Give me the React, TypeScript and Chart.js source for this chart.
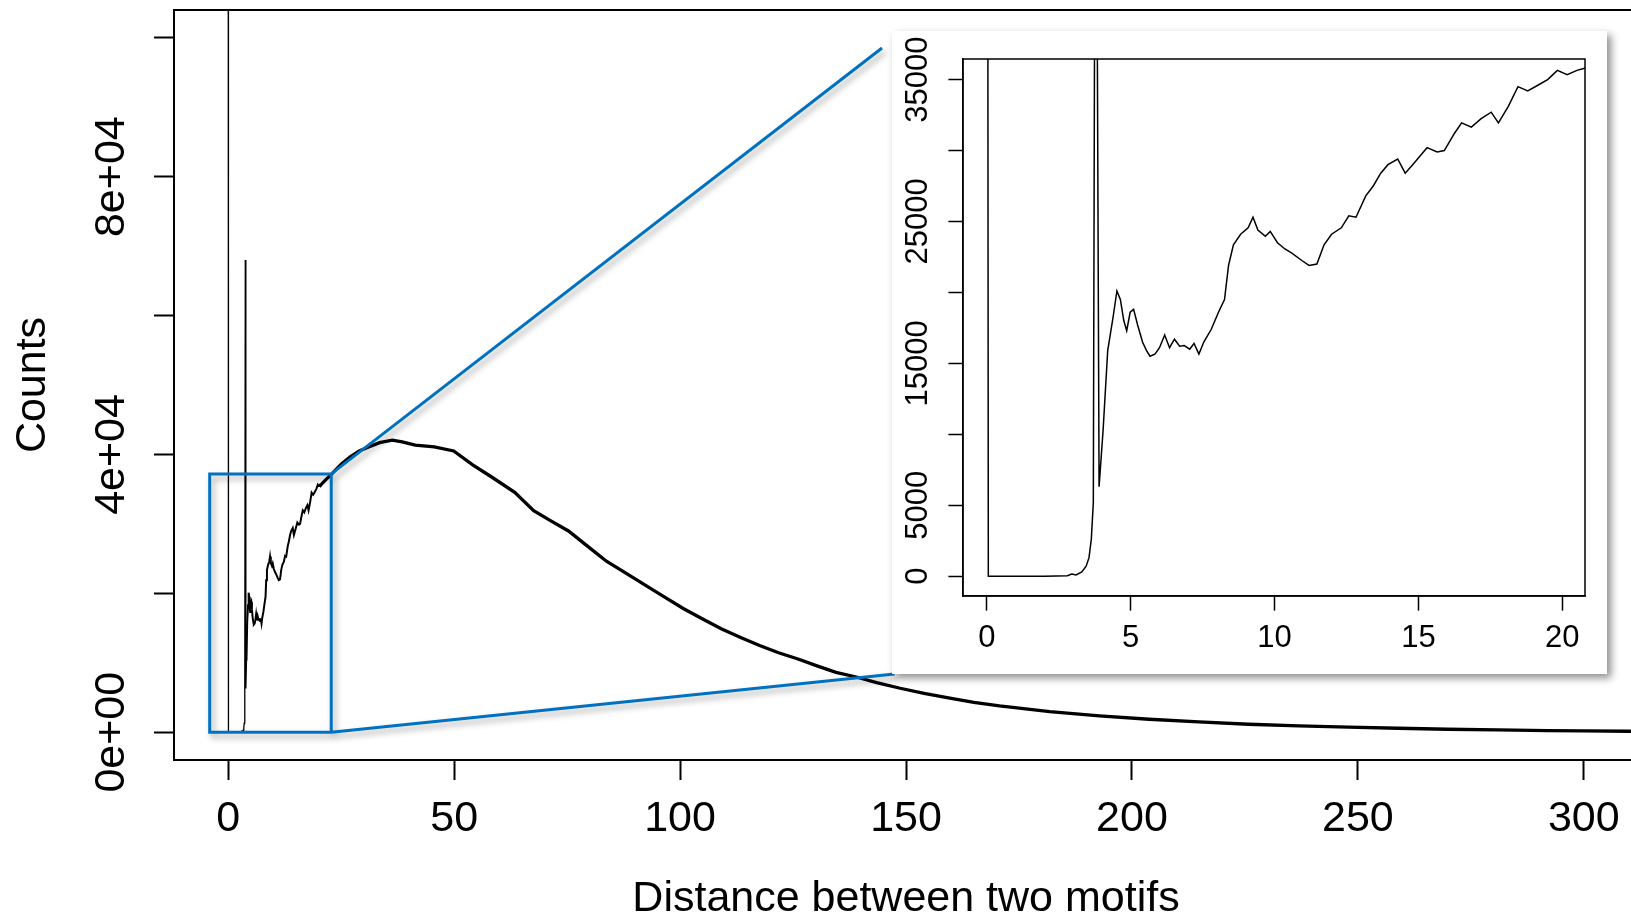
import React, { useEffect, useRef } from "react";
import { Chart, registerables } from "chart.js";

Chart.register(...registerables);

// Distance between two motifs (x) and counts (y)
const distance = [
  0, 0.05, 1.0, 2.0, 2.8, 2.95, 3.1, 3.3, 3.45, 3.55, 3.63, 3.7, 3.78, 3.9,
  4.04, 4.2, 4.39, 4.52, 4.64, 4.76, 4.86, 4.98, 5.1, 5.24, 5.41, 5.55, 5.67,
  5.84, 6.0, 6.18, 6.35, 6.52, 6.7, 6.86, 7.05, 7.2, 7.37, 7.54, 7.8, 8.05,
  8.26, 8.4, 8.57, 8.82, 9.08, 9.25, 9.42, 9.68, 9.85, 10.1, 10.36, 10.6,
  10.96, 11.2, 11.47, 11.72, 11.98, 12.32, 12.58, 12.83, 13.17, 13.43, 13.69,
  13.94, 14.28, 14.54, 14.8, 15.05, 15.3, 15.65, 15.9, 16.25, 16.5, 16.84,
  17.18, 17.53, 17.78, 18.12, 18.46, 18.8, 19.15, 19.49, 19.83, 20.17, 20.51,
  20.77, 21.5, 22.6, 25, 27, 29, 31.2, 33.5, 36.3, 38.5, 41.4, 45.6, 49.9,
  54.1, 58.3, 63.4, 67.6, 71.5, 75.3, 79.5, 83.7, 88, 92.2, 96.5, 100.7, 105,
  109.1, 113.4, 117.6, 121.8, 126.1, 130.3, 134.5, 139, 143.5, 148.7, 154,
  159.7, 165, 170.7, 181.8, 192.8, 203.8, 214.8, 225.8, 236.9, 247.9, 258.9,
  269.9, 280.9, 292, 300, 310, 325,
];
const counts = [
  125000, 0, 0, 0, 30, 150, 80, 300, 700, 1300, 2600, 5200, 68000, 6300,
  10300, 15900, 18300, 20100, 19500, 18000, 17300, 18600, 18800, 17700, 16500,
  15900, 15500, 15650, 16100, 17000, 16100, 16700, 16200, 16250, 16000, 16400,
  15650, 16500, 17400, 18600, 19500, 21900, 23350, 24100, 24550, 25300, 24400,
  23950, 24300, 23500, 23060, 22760, 22230, 21900, 22000, 23350, 24100, 24550,
  25400, 25300, 26800, 27500, 28400, 29000, 29400, 28400, 29000, 29600, 30200,
  29900, 30000, 31200, 31950, 31650, 32250, 32700, 31950, 33100, 34500, 34200,
  34600, 35000, 35650, 35350, 35650, 35800, 36300, 36980, 38600, 39650, 40500,
  41100, 41700, 42070, 41800, 41340, 41100, 40500, 38500, 36750, 34550, 31890,
  30400, 28980, 26800, 24620, 22900, 21220, 19500, 17820, 16300, 14910, 13650,
  12490, 11450, 10540, 9550, 8610, 7950, 7150, 6330, 5600, 4900, 4300, 3790,
  2970, 2350, 1870, 1480, 1150, 910, 720, 575, 430, 330, 230, 180, 140, 100,
];

const mainXTicks = [0, 50, 100, 150, 200, 250, 300];
const mainYTicks = [0, 20000, 40000, 60000, 80000, 100000];
const mainYLabels = ["0e+00", "", "4e+04", "", "8e+04", ""];

const insetXTicks = [0, 5, 10, 15, 20];
const insetYTicks = [0, 5000, 10000, 15000, 20000, 25000, 30000, 35000];
const insetYLabels = ["0", "5000", "", "15000", "", "25000", "", "35000"];

// zoomed region marked on the main plot
const zoomBoxX = [-4.1, 22.8];
const zoomBoxY = [0, 37200];

const FONT = "'Liberation Sans', Arial, sans-serif";
const BLUE = "#0070C0";

const W = 1631;
const H = 915;
const MAIN_W = 1645;
const PANEL = { left: 892, top: 31, width: 715, height: 643 };

function points() {
  return distance.map((x, i) => ({ x, y: counts[i] }));
}

const framePlugin = (lw: number) => ({
  id: "frame" + String(lw).replace(".", "_"),
  afterDraw(chart: any) {
    const { ctx, chartArea: a } = chart;
    ctx.save();
    ctx.strokeStyle = "#000";
    ctx.lineWidth = lw;
    ctx.strokeRect(a.left, a.top, a.right - a.left, a.bottom - a.top);
    ctx.restore();
  },
});

const zoomPlugin = {
  id: "zoomBox",
  afterDatasetsDraw(chart: any) {
    const { ctx, scales } = chart;
    const x0 = scales.x.getPixelForValue(zoomBoxX[0]);
    const x1 = scales.x.getPixelForValue(zoomBoxX[1]);
    const y0 = scales.y.getPixelForValue(zoomBoxY[0]);
    const y1 = scales.y.getPixelForValue(zoomBoxY[1]);
    ctx.save();
    ctx.strokeStyle = BLUE;
    ctx.lineWidth = 3;
    ctx.shadowColor = "rgba(0,0,0,0.35)";
    ctx.shadowBlur = 6;
    ctx.shadowOffsetX = 3;
    ctx.shadowOffsetY = 4;
    ctx.beginPath();
    ctx.rect(x0, y1, x1 - x0, y0 - y1);
    ctx.moveTo(x1, y1);
    ctx.lineTo(PANEL.left - 10, PANEL.top + 17);
    ctx.moveTo(x1, y0);
    ctx.lineTo(PANEL.left + 2.5, PANEL.top + PANEL.height);
    ctx.stroke();
    ctx.restore();
  },
};

export default function App() {
  const mainRef = useRef<HTMLCanvasElement>(null);
  const insetRef = useRef<HTMLCanvasElement>(null);

  useEffect(() => {
    const bigFont = { family: FONT, size: 43 };
    const smallFont = { family: FONT, size: 31 };

    const main = new Chart(mainRef.current!, {
      type: "line",
      data: {
        datasets: [
          {
            data: points(),
            borderColor: "#000",
            borderWidth: 3,
            pointRadius: 0,
            tension: 0,
            segment: {
              borderWidth: (c: any) =>
                c.p0.parsed.x < 3.95 ? 1.3 : c.p0.parsed.x < 20 ? 2 : 3.3,
            },
          } as any,
        ],
      },
      options: {
        animation: false,
        responsive: false,
        events: [],
        layout: { padding: { top: 10, right: 7, left: 0, bottom: 0 } },
        plugins: { legend: { display: false }, tooltip: { enabled: false } },
        scales: {
          x: {
            type: "linear",
            min: -12,
            max: 312,
            afterBuildTicks: (s: any) => {
              s.ticks = mainXTicks.map((v) => ({ value: v }));
            },
            afterFit: (s: any) => {
              s.height = 155;
            },
            ticks: {
              autoSkip: false,
              padding: 13.5,
              color: "#000",
              font: bigFont,
              callback: (v: any) => String(v),
            },
            grid: {
              drawOnChartArea: false,
              drawTicks: true,
              tickLength: 20,
              tickWidth: 2,
              tickColor: "#000",
            },
            border: { display: true, color: "#000", width: 2 },
            title: {
              display: true,
              text: "Distance between two motifs",
              color: "#000",
              font: bigFont,
              padding: { top: 0, bottom: -10 },
            },
          },
          y: {
            type: "linear",
            min: -4000,
            max: 104000,
            afterBuildTicks: (s: any) => {
              s.ticks = mainYTicks.map((v) => ({ value: v }));
            },
            afterFit: (s: any) => {
              s.width = 174;
            },
            ticks: {
              autoSkip: false,
              minRotation: 90,
              maxRotation: 90,
              crossAlign: "center",
              padding: -18.4,
              color: "#000",
              font: bigFont,
              callback: (v: any) => mainYLabels[mainYTicks.indexOf(v)] ?? "",
            },
            grid: {
              drawOnChartArea: false,
              drawTicks: true,
              tickLength: 20,
              tickWidth: 2,
              tickColor: "#000",
            },
            border: { display: true, color: "#000", width: 2 },
            title: {
              display: true,
              text: "Counts",
              color: "#000",
              font: bigFont,
              padding: { top: 7, bottom: 0 },
            },
          },
        },
      } as any,
      plugins: [framePlugin(2), zoomPlugin],
    });

    const inset = new Chart(insetRef.current!, {
      type: "line",
      data: {
        datasets: [
          {
            data: points(),
            borderColor: "#000",
            borderWidth: 1.5,
            pointRadius: 0,
            tension: 0,
          },
        ],
      },
      options: {
        animation: false,
        responsive: false,
        events: [],
        layout: { padding: { top: 28, right: 22, left: 0, bottom: 0 } },
        plugins: { legend: { display: false }, tooltip: { enabled: false } },
        scales: {
          x: {
            type: "linear",
            min: -0.83,
            max: 20.79,
            afterBuildTicks: (s: any) => {
              s.ticks = insetXTicks.map((v) => ({ value: v }));
            },
            afterFit: (s: any) => {
              s.height = 78;
            },
            ticks: {
              autoSkip: false,
              padding: 9.5,
              color: "#000",
              font: smallFont,
              callback: (v: any) => String(v),
            },
            grid: {
              drawOnChartArea: false,
              drawTicks: true,
              tickLength: 14.6,
              tickWidth: 1.5,
              tickColor: "#000",
            },
            border: { display: true, color: "#000", width: 1.5 },
          },
          y: {
            type: "linear",
            min: -1400,
            max: 36450,
            afterBuildTicks: (s: any) => {
              s.ticks = insetYTicks.map((v) => ({ value: v }));
            },
            afterFit: (s: any) => {
              s.width = 71;
            },
            ticks: {
              autoSkip: false,
              minRotation: 90,
              maxRotation: 90,
              crossAlign: "center",
              padding: -13.2,
              color: "#000",
              font: smallFont,
              callback: (v: any) => insetYLabels[insetYTicks.indexOf(v)] ?? "",
            },
            grid: {
              drawOnChartArea: false,
              drawTicks: true,
              tickLength: 14.6,
              tickWidth: 1.5,
              tickColor: "#000",
            },
            border: { display: true, color: "#000", width: 1.5 },
          },
        },
      } as any,
      plugins: [framePlugin(1.5)],
    });

    return () => {
      main.destroy();
      inset.destroy();
    };
  }, []);

  return (
    <div
      style={{
        position: "fixed",
        left: 0,
        top: 0,
        width: W,
        height: H,
        overflow: "hidden",
        background: "#fff",
      }}
    >
      <canvas
        ref={mainRef}
        width={MAIN_W}
        height={H}
        style={{ position: "absolute", left: 0, top: 0, width: MAIN_W, height: H }}
      />
      <div
        style={{
          position: "absolute",
          left: PANEL.left,
          top: PANEL.top,
          width: PANEL.width,
          height: PANEL.height,
          background: "#fff",
          boxShadow: "4px 4px 8px rgba(0,0,0,0.45)",
        }}
      >
        <canvas
          ref={insetRef}
          width={PANEL.width}
          height={PANEL.height}
          style={{ display: "block", width: PANEL.width, height: PANEL.height }}
        />
      </div>
    </div>
  );
}
